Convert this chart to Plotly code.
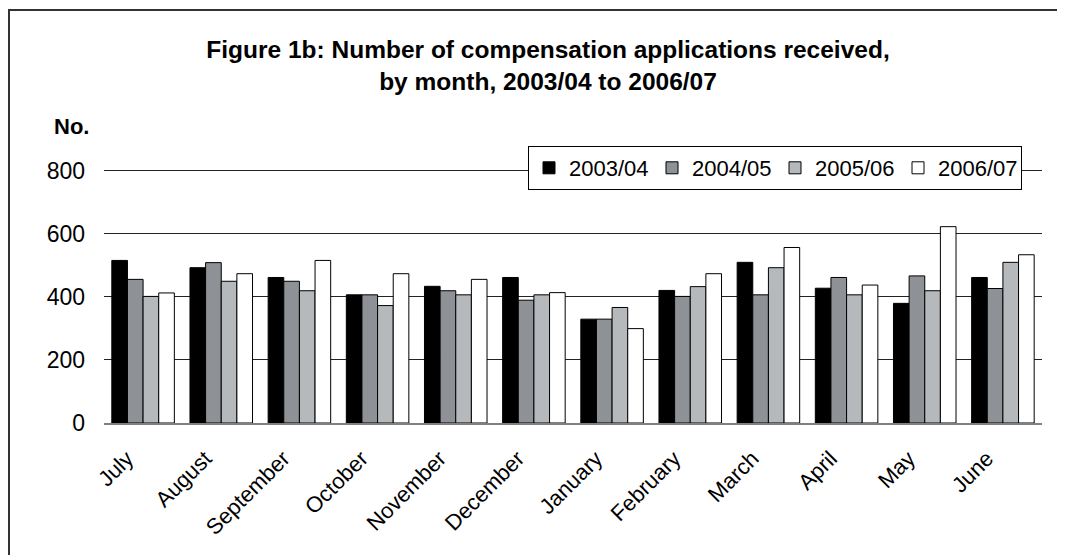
import plotly.graph_objects as go

months = ["July", "August", "September", "October", "November", "December",
          "January", "February", "March", "April", "May", "June"]
y2003 = [515, 492, 461, 406, 433, 461, 329, 420, 509, 427, 379, 461]
y2004 = [455, 508, 449, 406, 419, 389, 329, 401, 406, 461, 466, 426]
y2005 = [401, 449, 419, 372, 406, 406, 366, 432, 492, 406, 419, 509]
y2006 = [412, 473, 515, 473, 455, 413, 299, 473, 556, 437, 622, 533]
series_names = ["2003/04", "2004/05", "2005/06", "2006/07"]
series_colors = ["#000000", "#8e9196", "#b6b9bc", "#ffffff"]
y_ticks = [0, 200, 400, 600, 800]

FONT = "Liberation Sans, Arial, sans-serif"

fig = go.Figure()
for name, vals, col in zip(series_names, [y2003, y2004, y2005, y2006], series_colors):
    fig.add_trace(go.Bar(x=months, y=vals, name=name, marker_color=col,
                         marker_line_color="#000000", marker_line_width=1))

OFF = 8  # page body margin
W, H = 1065 - OFF, 555 - OFF
# plot area in page px: x 104..1042, y(0)=423, y(800)=170 -> extend range to 830
y_top_val = 830
zero_px, px_per_unit = 423, (423 - 170) / 800
top_px = zero_px - px_per_unit * y_top_val
L, R = 104 - OFF, 1065 - 1042
T, B = round(top_px - OFF), 555 - zero_px
pw, ph = W - L - R, H - T - B

def px_x(p):  # page x -> paper
    return (p - OFF - L) / pw

def px_y(p):  # page y -> paper
    return (H - B - (p - OFF)) / ph

fig.update_layout(
    width=W, height=H,
    margin=dict(l=L, r=R, t=T, b=B),
    paper_bgcolor="white", plot_bgcolor="white",
    barmode="group", bargap=0.2, bargroupgap=0,
    font=dict(family=FONT, size=22, color="#000000"),
    title=dict(text="<b>Figure 1b: Number of compensation applications received,<br>by month, 2003/04 to 2006/07</b>",
               x=(548 - OFF) / W, xref="container", xanchor="center",
               y=1 - 50 / H, yref="container", yanchor="top",
               font=dict(family=FONT, size=24.5, color="#000000")),
    legend=dict(orientation="h", x=px_x(1022), xanchor="right", y=px_y(168), yanchor="middle",
                bgcolor="white", bordercolor="#000000", borderwidth=1,
                font=dict(family=FONT, size=22, color="#000000"),
                traceorder="normal", itemwidth=30, entrywidth=78),
    xaxis=dict(showgrid=False, showline=True, linecolor="#808080", linewidth=2,
               tickangle=-45, ticks="", ticklabelstandoff=12, ticklabelshift=-16,
               tickfont=dict(family=FONT, size=22, color="#000000")),
    yaxis=dict(range=[0, y_top_val], tickvals=y_ticks, showgrid=True, gridcolor="#222222", gridwidth=1,
               zeroline=False, showline=False, ticks="", ticklabelstandoff=18,
               tickfont=dict(family=FONT, size=23, color="#000000")),
    showlegend=True,
)

fig.add_annotation(text="<b>No.</b>", xref="paper", yref="paper", x=px_x(52), y=px_y(127),
                   xanchor="left", yanchor="middle", showarrow=False,
                   font=dict(family=FONT, size=22, color="#000000"))

fig.add_shape(type="rect", xref="paper", yref="paper",
              x0=px_x(9), x1=px_x(1080), y0=px_y(580), y1=px_y(10),
              line=dict(color="#333333", width=2), fillcolor="rgba(0,0,0,0)", layer="below")

fig.write_html("out.html")
